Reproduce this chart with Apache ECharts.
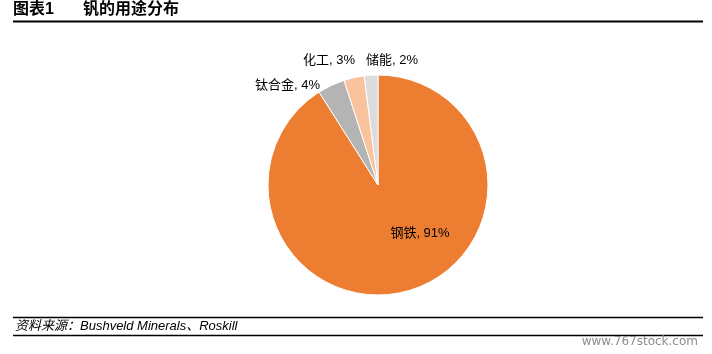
<!DOCTYPE html>
<html><head><meta charset="utf-8">
<style>html,body{margin:0;padding:0;background:#fff}#c{width:712px;height:354px}</style>
<script src="https://cdn.jsdelivr.net/npm/echarts@6/dist/echarts.min.js"></script>
</head><body><div id="c"></div>
<script>
const categories = ['钢铁', '钛合金', '化工', '储能'];
const values = [91, 4, 3, 2];
const colors = ['#ED7D31', '#B4B4B4', '#F8C39D', '#DCDCDC'];
const titleNo = '图表1';
const titleText = '钒的用途分布';
const sourceText = '资料来源：Bushveld Minerals、Roskill';
const watermark = 'www.767stock.com';

const FONT = '"Liberation Sans", Arial, "Noto Sans CJK SC", sans-serif';
const chart = echarts.init(document.getElementById('c'), null, {renderer: 'canvas'});
const labelSpots = {
  '钢铁': {x: 420, y: 233, align: 'center'},
  '钛合金': {x: 320, y: 85, align: 'right'},
  '化工': {x: 355, y: 60, align: 'right'},
  '储能': {x: 366, y: 60, align: 'left'}
};
chart.setOption({
  animation: false,
  backgroundColor: '#fff',
  graphic: [
    {type: 'text', left: 13, top: 2, style: {text: titleNo, font: 'bold 16px ' + FONT, fill: '#000'}},
    {type: 'text', left: 83, top: 2, style: {text: titleText, font: 'bold 16px ' + FONT, fill: '#000'}},
    {type: 'line', shape: {x1: 13, y1: 21.5, x2: 703, y2: 21.5}, style: {stroke: '#000', lineWidth: 2}},
    {type: 'line', shape: {x1: 13, y1: 317.5, x2: 703, y2: 317.5}, style: {stroke: '#000', lineWidth: 1.5}},
    {type: 'text', left: 15, top: 319.5, style: {text: sourceText, font: 'italic 13px ' + FONT, fill: '#000'}},
    {type: 'line', shape: {x1: 13, y1: 335.5, x2: 703, y2: 335.5}, style: {stroke: '#000', lineWidth: 1.5}},
    {type: 'text', right: 14, top: 336, style: {text: watermark, font: '12px "DejaVu Sans", sans-serif', fill: '#8c8c8c'}}
  ],
  series: [{
    type: 'pie',
    center: [378, 185],
    radius: [0, 110],
    startAngle: 90,
    clockwise: true,
    avoidLabelOverlap: false,
    itemStyle: {borderColor: '#fff', borderWidth: 1},
    label: {
      show: true, position: 'outside', formatter: '{b}, {c}%',
      fontFamily: FONT, fontSize: 13, color: '#000'
    },
    labelLine: {show: false},
    labelLayout: function (p) {
      const s = labelSpots[p.text.split(',')[0]];
      if (!s) return {};
      return {x: s.x, y: s.y, align: s.align, verticalAlign: 'middle'};
    },
    emphasis: {disabled: true},
    data: categories.map((n, i) => ({
      name: n, value: values[i], itemStyle: {color: colors[i]}
    }))
  }]
});
</script></body></html>
